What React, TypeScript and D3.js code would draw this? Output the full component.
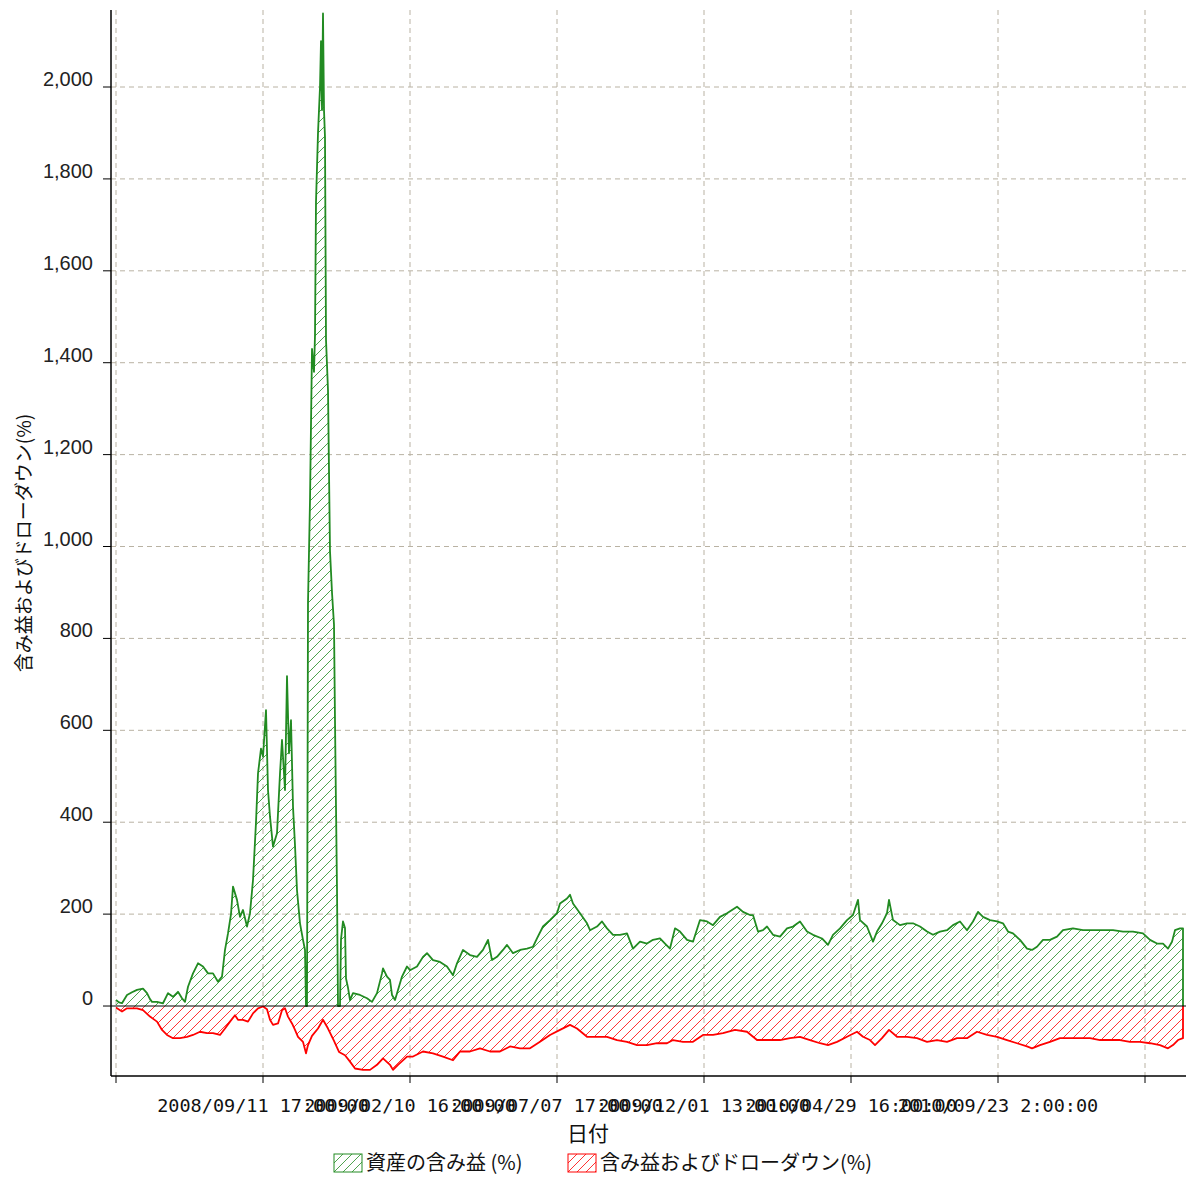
import React from 'react';
import * as d3 from 'd3';

// x is in bar units (one bar per sample column), ticks every 147 bars
const tickBars = [0, 147, 294, 441, 588, 735, 882, 1029];
const tickLabels = [
  '',
  '2008/09/11 17:00:00',
  '2009/02/10 16:00:00',
  '2009/07/07 17:00:00',
  '2009/12/01 13:00:00',
  '2010/04/29 16:00:00',
  '2010/09/23 2:00:00',
  '',
];
const yTicks = [0, 200, 400, 600, 800, 1000, 1200, 1400, 1600, 1800, 2000];

const seriesNames = ['資産の含み益 (%)', '含み益およびドローダウン(%)'];

// 資産の含み益 (%)
const gain: [number, number][] = [
  [0, 13], [3, 8], [6, 6], [11, 24], [16, 30], [21, 35], [27, 38], [31, 28], [34, 15], [36, 9],
  [41, 9], [47, 6], [52, 28], [57, 20], [62, 31], [66, 17], [69, 9], [72, 42], [77, 71], [82, 93],
  [87, 86], [92, 71], [97, 71], [102, 53], [106, 64], [109, 122], [112, 158], [115, 200], [117, 260],
  [121, 231], [124, 194], [127, 209], [131, 173], [134, 202], [137, 274], [140, 400], [142, 506],
  [145, 560], [147, 543], [150, 644], [152, 470], [154, 412], [157, 347], [161, 376], [164, 506],
  [166, 579], [169, 470], [171, 718], [173, 550], [175, 622], [177, 434], [179, 350], [181, 252],
  [184, 180], [187, 144], [189, 122], [190, 0], [191, 0], [192, 877], [194, 1100], [196, 1430],
  [198, 1380], [199, 1460], [200, 1750], [202, 1900], [204, 2000], [205, 2100], [206, 1950],
  [207, 2160], [208, 1950], [209, 1890], [210, 1450], [212, 1340], [214, 990], [216, 900],
  [218, 830], [219, 620], [220, 433], [221, 254], [222, 0], [224, 0], [225, 145], [227, 184],
  [229, 170], [230, 60], [232, 40], [234, 13], [237, 28], [244, 24], [251, 17], [256, 9], [261, 28],
  [266, 71], [267, 82], [271, 64], [274, 57], [276, 24], [279, 13], [282, 35], [286, 64], [291, 86],
  [294, 78], [301, 86], [307, 107], [311, 115], [317, 100], [324, 96], [331, 86], [337, 67],
  [341, 93], [347, 122], [354, 111], [361, 107], [367, 122], [372, 144], [376, 100], [381, 107],
  [387, 122], [391, 133], [397, 115], [404, 122], [411, 125], [417, 129], [421, 147], [427, 173],
  [434, 187], [441, 202], [444, 223], [451, 234], [454, 242], [457, 223], [464, 202], [471, 180],
  [474, 165], [481, 173], [486, 184], [491, 169], [497, 155], [504, 155], [511, 158], [517, 125],
  [524, 140], [531, 136], [537, 144], [544, 147], [549, 136], [554, 125], [559, 169], [564, 162],
  [571, 144], [577, 140], [584, 187], [591, 184], [597, 176], [604, 194], [611, 202], [621, 216],
  [627, 205], [634, 198], [637, 198], [642, 162], [647, 165], [651, 173], [657, 155], [664, 151],
  [671, 169], [677, 173], [684, 184], [691, 162], [697, 155], [706, 147], [712, 133], [717, 155],
  [724, 169], [731, 187], [737, 198], [742, 231], [744, 187], [751, 173], [757, 140], [761, 162],
  [766, 180], [771, 202], [773, 231], [777, 187], [784, 176], [791, 180], [797, 180], [804, 173],
  [811, 162], [817, 155], [824, 162], [831, 165], [837, 176], [844, 184], [851, 165], [857, 184],
  [862, 205], [867, 194], [874, 187], [881, 184], [887, 180], [892, 162], [897, 158], [904, 144],
  [911, 125], [916, 122], [921, 129], [927, 144], [934, 144], [941, 151], [947, 165], [957, 169],
  [967, 165], [977, 165], [987, 165], [997, 165], [1007, 162], [1017, 162], [1027, 158],
  [1034, 144], [1041, 136], [1047, 136], [1052, 125], [1056, 140], [1059, 165], [1064, 169],
  [1067, 169],
];

// 含み益およびドローダウン(%)
const drawdown: [number, number][] = [
  [0, -3], [1, -5], [6, -12], [11, -5], [21, -5], [27, -9], [34, -23], [41, -34], [46, -52],
  [51, -63], [57, -70], [64, -70], [71, -67], [77, -63], [84, -56], [91, -59], [97, -59],
  [104, -63], [109, -49], [114, -34], [119, -20], [122, -30], [127, -30], [132, -34], [137, -16],
  [142, -5], [147, -1], [151, -7], [154, -30], [157, -41], [162, -38], [166, -9], [169, -5],
  [172, -23], [176, -38], [179, -52], [182, -67], [187, -78], [190, -103], [192, -85], [196, -65],
  [202, -49], [207, -30], [212, -49], [218, -76], [223, -100], [229, -107], [234, -121],
  [239, -136], [247, -139], [254, -139], [261, -128], [267, -114], [274, -128], [277, -139],
  [282, -128], [291, -110], [297, -110], [307, -99], [317, -103], [327, -110], [337, -118],
  [344, -99], [354, -99], [364, -92], [374, -99], [384, -99], [394, -88], [404, -92], [414, -92],
  [424, -78], [434, -63], [444, -52], [454, -41], [461, -49], [471, -67], [481, -67], [491, -67],
  [501, -74], [511, -78], [521, -85], [531, -85], [541, -81], [551, -81], [557, -74], [567, -78],
  [577, -78], [587, -63], [597, -63], [607, -59], [619, -52], [631, -56], [641, -74], [654, -74],
  [664, -74], [674, -70], [684, -67], [694, -74], [704, -81], [712, -85], [721, -78], [731, -67],
  [741, -56], [747, -67], [754, -74], [759, -85], [766, -70], [773, -52], [781, -67], [791, -67],
  [801, -70], [811, -78], [821, -74], [831, -78], [841, -70], [851, -70], [861, -56], [871, -63],
  [881, -67], [891, -74], [901, -81], [911, -88], [916, -92], [924, -85], [934, -78], [944, -70],
  [954, -70], [964, -70], [974, -70], [984, -74], [994, -74], [1004, -74], [1014, -78],
  [1024, -78], [1034, -81], [1044, -85], [1052, -92], [1057, -85], [1062, -74], [1067, -70],
];

const GREEN = '#228b22';
const RED = '#ff0000';
const GRID = '#b9b2a3';

// diagonal "/" hatch lines covering a box, clipped by clipId
function Hatch({ clipId, color, x0, y0, x1, y1, step = 10 }:
  { clipId: string; color: string; x0: number; y0: number; x1: number; y1: number; step?: number }) {
  const h = y1 - y0;
  const starts = d3.range(x0 - h, x1 + step, step);
  return (
    <g clipPath={`url(#${clipId})`}>
      {starts.map(s => (
        <line key={s} x1={s} y1={y1} x2={s + h} y2={y0} stroke={color} strokeWidth={1} strokeOpacity={0.8} />
      ))}
    </g>
  );
}

export default function App() {
  const width = 1189;
  const height = 1180;
  const axisX = 111;
  const axisY = 1076;
  const plotTop = 10;
  const plotRight = 1186;

  const x = d3.scaleLinear().domain([0, 1067]).range([116, 1183]);
  const y = d3.scaleLinear().domain([-152.3, 2167.6]).range([axisY, plotTop]);

  const area = d3.area<[number, number]>()
    .x(d => x(d[0]))
    .y0(y(0))
    .y1(d => y(d[1]));

  const line = d3.line<[number, number]>()
    .x(d => x(d[0]))
    .y(d => y(d[1]));

  const fmt = d3.format(',');

  return (
    <svg width={width} height={height} style={{ position: 'absolute', left: 0, top: 0, background: '#fff' }}>
      <defs>
        <clipPath id="clip-gain"><path d={area(gain) || ''} /></clipPath>
        <clipPath id="clip-dd"><path d={area(drawdown) || ''} /></clipPath>
        <clipPath id="clip-lg0"><rect x={334} y={1154} width={28} height={18} /></clipPath>
        <clipPath id="clip-lg1"><rect x={568} y={1154} width={28} height={18} /></clipPath>
      </defs>

      {/* grid */}
      {yTicks.filter(t => t !== 0).map(t => (
        <line key={'gy' + t} x1={axisX} x2={plotRight} y1={y(t)} y2={y(t)}
          stroke={GRID} strokeDasharray="5,4" strokeWidth={1} />
      ))}
      {tickBars.map(t => (
        <line key={'gx' + t} x1={x(t)} x2={x(t)} y1={plotTop} y2={axisY}
          stroke={GRID} strokeDasharray="5,4" strokeWidth={1} />
      ))}

      {/* hatched areas */}
      <Hatch clipId="clip-dd" color={RED} x0={axisX} y0={plotTop} x1={plotRight} y1={axisY} />
      <Hatch clipId="clip-gain" color={GREEN} x0={axisX} y0={plotTop} x1={plotRight} y1={axisY} />
      <path d={(line(drawdown) || '') + `L${x(1067)},${y(0)}`} fill="none" stroke={RED} strokeWidth={1.8} strokeLinejoin="round" />
      <path d={(line(gain) || '') + `L${x(1067)},${y(0)}`} fill="none" stroke={GREEN} strokeWidth={1.8} strokeLinejoin="round" />

      {/* zero line */}
      <line x1={axisX} x2={plotRight} y1={y(0)} y2={y(0)} stroke="#000" strokeWidth={1.2} />

      {/* axes */}
      <line x1={axisX} x2={axisX} y1={plotTop} y2={axisY} stroke="#000" strokeWidth={1.5} />
      <line x1={axisX} x2={plotRight} y1={axisY} y2={axisY} stroke="#000" strokeWidth={1.5} />

      {yTicks.map(t => (
        <g key={'yt' + t}>
          <line x1={axisX - 8} x2={axisX} y1={y(t)} y2={y(t)} stroke="#000" strokeWidth={1} />
          <text x={93} y={y(t) - 1} textAnchor="end" fontFamily="Liberation Sans, Arial, sans-serif"
            fontSize={20} fill="#222">{fmt(t)}</text>
        </g>
      ))}

      {tickBars.map((t, i) => (
        <g key={'xt' + t}>
          <line x1={x(t)} x2={x(t)} y1={axisY} y2={axisY + 7} stroke="#000" strokeWidth={1} />
          <text x={x(t)} y={1112} textAnchor="middle" fontFamily="DejaVu Sans Mono, monospace"
            fontSize={18.5} fill="#111">{tickLabels[i]}</text>
        </g>
      ))}

      {/* axis titles */}
      <text x={588} y={1141} textAnchor="middle" fontFamily="Noto Sans CJK JP, sans-serif" fontSize={21} fill="#111">日付</text>
      <text transform="translate(22,543) rotate(-90)" textAnchor="middle" dominantBaseline="central"
        fontFamily="Noto Sans CJK JP, sans-serif" fontSize={19} fill="#111">含み益およびドローダウン(%)</text>

      {/* legend */}
      <g>
        <Hatch clipId="clip-lg0" color={GREEN} x0={334} y0={1154} x1={362} y1={1172} step={9} />
        <rect x={334} y={1154} width={28} height={18} fill="none" stroke={GREEN} strokeWidth={1} />
        <text x={366} y={1170} fontFamily="Noto Sans CJK JP, sans-serif" fontSize={20} fill="#111">{seriesNames[0]}</text>
        <Hatch clipId="clip-lg1" color={RED} x0={568} y0={1154} x1={596} y1={1172} step={9} />
        <rect x={568} y={1154} width={28} height={18} fill="none" stroke={RED} strokeWidth={1} />
        <text x={600} y={1170} fontFamily="Noto Sans CJK JP, sans-serif" fontSize={20} fill="#111">{seriesNames[1]}</text>
      </g>
    </svg>
  );
}
